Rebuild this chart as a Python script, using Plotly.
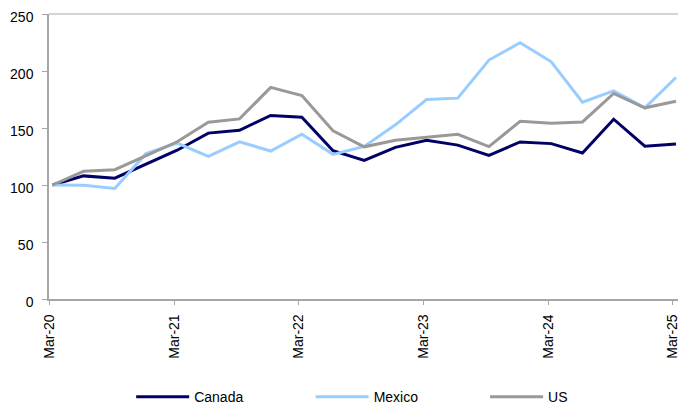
import plotly.graph_objects as go

quarters = ["Mar-20", "Jun-20", "Sep-20", "Dec-20",
            "Mar-21", "Jun-21", "Sep-21", "Dec-21",
            "Mar-22", "Jun-22", "Sep-22", "Dec-22",
            "Mar-23", "Jun-23", "Sep-23", "Dec-23",
            "Mar-24", "Jun-24", "Sep-24", "Dec-24",
            "Mar-25"]

canada = [100, 108, 106, 118, 130.5, 145.5, 148, 161, 159.5, 130, 121.5,
          133, 139.2, 135, 126, 137.8, 136.3, 128.1, 157.7, 134, 136]
mexico = [100, 99.7, 97, 127.5, 136.8, 125.2, 137.9, 129.8, 144.6, 126.9, 133.8,
          152.8, 175, 176.2, 209.6, 224.8, 208.1, 172.6, 182.6, 167.7, 194.3]
us = [100, 112, 113.4, 125.8, 137.9, 155, 158, 185.6, 178.5, 147.5, 133.5,
      139.3, 141.9, 144.5, 133.7, 155.9, 154.2, 155.3, 180.3, 167.7, 173.5]

tick_labels = ["Mar-20", "Mar-21", "Mar-22", "Mar-23", "Mar-24", "Mar-25"]
y_ticks = [0, 50, 100, 150, 200, 250]

FONT = "Liberation Sans, Arial, sans-serif"

x_idx = list(range(len(quarters)))
tick_pos = [quarters.index(t) - 0.1 for t in tick_labels]

series = [("Canada", canada, "#000066", "legend", 0.130),
          ("Mexico", mexico, "#99CCFF", "legend2", 0.414),
          ("US", us, "#999999", "legend3", 0.690)]

fig = go.Figure()
legends = {}
for name, vals, color, lg, lx in series:
    fig.add_trace(go.Scatter(x=x_idx, y=vals, mode="lines", name=name,
                             text=quarters, hoverinfo="text+y+name",
                             legend=lg, line=dict(color=color, width=3)))
    legends[lg] = dict(orientation="h", x=lx, xanchor="left", y=-0.344, yanchor="middle",
                       font=dict(size=14, family=FONT), itemwidth=53,
                       bgcolor="rgba(0,0,0,0)", borderwidth=0)

fig.update_layout(
    template=go.layout.Template(),
    width=678, height=402,
    margin=dict(l=40.5, r=5, t=6, b=111, autoexpand=False),
    paper_bgcolor="white", plot_bgcolor="white",
    font=dict(family=FONT, size=14, color="#000000"),
    showlegend=True,
    shapes=[
        dict(type="line", xref="paper", yref="paper", x0=0, x1=1, y0=1, y1=1,
             line=dict(color="#C6C6C6", width=1.5), layer="below"),
        dict(type="line", xref="paper", yref="paper", x0=1, x1=1, y0=0, y1=1,
             line=dict(color="#C6C6C6", width=1.5), layer="below"),
    ],
    **legends,
)
fig.update_xaxes(range=[-0.11, 20.16], tickmode="array", tickvals=tick_pos, ticktext=tick_labels,
                 tickangle=-90, ticks="outside", ticklen=4, tickcolor="#A6A6A6",
                 ticklabelstandoff=4, automargin=False, ticklabeloverflow="allow",
                 showline=True, linecolor="#A6A6A6", linewidth=1.5, showgrid=False,
                 zeroline=False, tickfont=dict(size=14))
fig.update_yaxes(range=[0, 250], tickmode="array", tickvals=y_ticks,
                 ticks="outside", ticklen=5, tickcolor="#A6A6A6",
                 ticklabelstandoff=6, ticklabelshift=3, automargin=False,
                 ticklabeloverflow="allow",
                 showline=True, linecolor="#A6A6A6", linewidth=1.5, showgrid=False,
                 zeroline=False, tickfont=dict(size=14))

fig.write_html("out.html")
